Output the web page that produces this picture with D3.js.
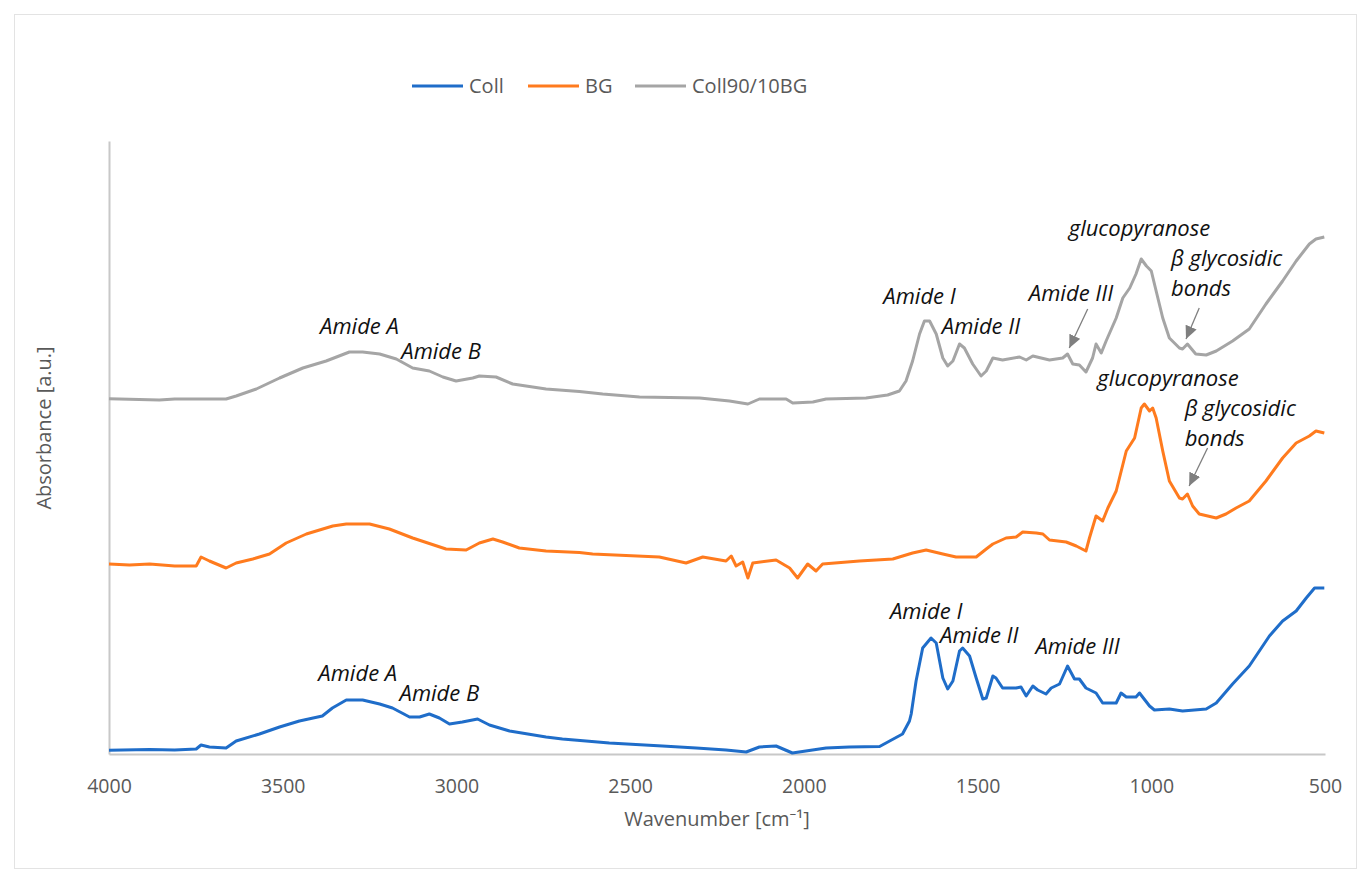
<!DOCTYPE html>
<html>
<head>
<meta charset="utf-8">
<script src="https://cdn.jsdelivr.net/npm/d3@7"></script>
<style>
  body { margin: 0; background: #fff; }
  svg text { font-family: "Open Sans", "Noto Sans", sans-serif; }
</style>
</head>
<body>
<svg id="chart" width="1367" height="882"></svg>
<script>
// FTIR spectra: collagen, bioglass and the 90/10 composite (absorbance in a.u., stacked)
const seriesNames = ["Coll", "BG", "Coll90/10BG"];
const seriesColors = ["#1f6dc9", "#ff7b1e", "#a5a5a5"];

const collWavenumber = [4000, 3883, 3811, 3749, 3735, 3711, 3663, 3634, 3567, 3509, 3452, 3386, 3357, 3317, 3270, 3221, 3184, 3135, 3106, 3078, 3049, 3020, 2983, 2939, 2905, 2847, 2742, 2695, 2627, 2560, 2407, 2310, 2224, 2166, 2128, 2080, 2033, 1975, 1936, 1869, 1782, 1753, 1716, 1696, 1691, 1677, 1658, 1634, 1619, 1600, 1586, 1571, 1552, 1543, 1523, 1504, 1485, 1475, 1456, 1447, 1428, 1389, 1375, 1360, 1341, 1327, 1303, 1288, 1264, 1241, 1221, 1207, 1188, 1159, 1140, 1101, 1087, 1072, 1044, 1034, 1005, 991, 948, 910, 842, 813, 766, 718, 660, 622, 583, 554, 530, 502];
const collAbsorbance = [0.037, 0.045, 0.04, 0.05, 0.09, 0.07, 0.06, 0.13, 0.20, 0.27, 0.33, 0.38, 0.46, 0.54, 0.54, 0.50, 0.46, 0.37, 0.37, 0.40, 0.36, 0.30, 0.32, 0.35, 0.29, 0.23, 0.17, 0.15, 0.13, 0.11, 0.08, 0.06, 0.04, 0.02, 0.07, 0.08, 0.01, 0.04, 0.06, 0.07, 0.075, 0.13, 0.20, 0.33, 0.40, 0.73, 1.06, 1.16, 1.11, 0.76, 0.65, 0.73, 1.03, 1.06, 0.98, 0.76, 0.55, 0.56, 0.78, 0.76, 0.66, 0.66, 0.67, 0.58, 0.68, 0.64, 0.60, 0.66, 0.70, 0.88, 0.75, 0.75, 0.66, 0.61, 0.51, 0.51, 0.61, 0.57, 0.57, 0.61, 0.48, 0.44, 0.45, 0.43, 0.45, 0.51, 0.70, 0.88, 1.18, 1.33, 1.43, 1.56, 1.66, 1.66];

const bgWavenumber = [4000, 3941, 3883, 3811, 3749, 3735, 3711, 3663, 3634, 3586, 3538, 3490, 3432, 3356, 3317, 3250, 3193, 3126, 3030, 2972, 2934, 2895, 2867, 2819, 2742, 2646, 2608, 2416, 2339, 2291, 2224, 2209, 2195, 2176, 2161, 2147, 2080, 2041, 2018, 1989, 1965, 1946, 1840, 1744, 1687, 1648, 1600, 1562, 1504, 1475, 1456, 1418, 1389, 1370, 1331, 1312, 1293, 1245, 1216, 1188, 1178, 1159, 1140, 1125, 1101, 1072, 1048, 1029, 1020, 1005, 996, 986, 967, 948, 919, 910, 896, 881, 862, 813, 785, 756, 718, 670, 622, 583, 545, 526, 502];
const bgAbsorbance = [1.90, 1.89, 1.90, 1.88, 1.88, 1.97, 1.93, 1.86, 1.91, 1.95, 2.00, 2.11, 2.20, 2.28, 2.30, 2.30, 2.25, 2.16, 2.05, 2.04, 2.11, 2.15, 2.12, 2.06, 2.03, 2.015, 2.00, 1.97, 1.91, 1.97, 1.93, 1.98, 1.88, 1.92, 1.76, 1.91, 1.94, 1.86, 1.76, 1.90, 1.83, 1.90, 1.93, 1.95, 2.01, 2.04, 2.00, 1.97, 1.97, 2.05, 2.10, 2.16, 2.17, 2.22, 2.21, 2.20, 2.14, 2.12, 2.08, 2.03, 2.16, 2.38, 2.33, 2.46, 2.63, 3.03, 3.16, 3.46, 3.50, 3.43, 3.46, 3.36, 3.03, 2.73, 2.56, 2.55, 2.60, 2.48, 2.40, 2.36, 2.40, 2.46, 2.53, 2.73, 2.96, 3.11, 3.18, 3.23, 3.21];

const mixWavenumber = [4000, 3855, 3811, 3663, 3634, 3576, 3509, 3442, 3375, 3308, 3270, 3221, 3173, 3126, 3078, 3039, 3001, 2953, 2934, 2886, 2838, 2742, 2646, 2579, 2473, 2300, 2214, 2161, 2128, 2051, 2032, 1974, 1936, 1821, 1759, 1725, 1706, 1687, 1667, 1653, 1638, 1619, 1600, 1586, 1571, 1552, 1538, 1514, 1490, 1475, 1456, 1428, 1379, 1360, 1341, 1293, 1255, 1241, 1226, 1207, 1188, 1169, 1159, 1144, 1130, 1101, 1082, 1062, 1044, 1029, 1014, 1000, 986, 967, 948, 919, 910, 896, 872, 842, 813, 766, 718, 670, 622, 583, 545, 526, 502];
const mixAbsorbance = [3.553, 3.54, 3.55, 3.55, 3.58, 3.65, 3.76, 3.86, 3.93, 4.02, 4.02, 4.00, 3.95, 3.86, 3.83, 3.77, 3.73, 3.76, 3.78, 3.77, 3.70, 3.65, 3.625, 3.60, 3.57, 3.56, 3.53, 3.50, 3.55, 3.55, 3.51, 3.52, 3.55, 3.56, 3.59, 3.63, 3.73, 3.93, 4.20, 4.33, 4.33, 4.20, 3.96, 3.88, 3.93, 4.10, 4.06, 3.90, 3.78, 3.83, 3.96, 3.94, 3.97, 3.94, 3.98, 3.94, 3.96, 4.00, 3.90, 3.89, 3.82, 3.96, 4.10, 4.01, 4.13, 4.36, 4.56, 4.66, 4.80, 4.95, 4.88, 4.83, 4.63, 4.36, 4.16, 4.06, 4.05, 4.10, 4.00, 3.99, 4.03, 4.13, 4.25, 4.50, 4.73, 4.93, 5.10, 5.15, 5.17];

const xTickValues = [4000, 3500, 3000, 2500, 2000, 1500, 1000, 500];

// band labels placed in data coordinates
const bandLabels = ["Amide A", "Amide B", "Amide I", "Amide II", "Amide III", "glucopyranose", "β glycosidic", "bonds",
                    "glucopyranose", "β glycosidic", "bonds",
                    "Amide A", "Amide B", "Amide I", "Amide II", "Amide III"];
const bandWavenumber = [3279, 3044, 1667, 1490, 1231, 1034, 943, 943,
                        952, 904, 904,
                        3284, 3049, 1648, 1495, 1212];
const bandAbsorbance = [4.20, 3.95, 4.50, 4.20, 4.53, 5.18, 4.88, 4.58,
                        3.68, 3.38, 3.08,
                        0.73, 0.53, 1.35, 1.11, 1.00];
const bandAnchor = ["middle", "middle", "middle", "middle", "middle", "middle", "start", "start",
                    "middle", "start", "start",
                    "middle", "middle", "middle", "middle", "middle"];

// pointer arrows: [from wavenumber, from absorbance, to wavenumber, to absorbance]
const arrowFromWn = [1183, 862, 838];
const arrowFromAbs = [4.45, 4.46, 3.06];
const arrowToWn = [1236, 900, 891];
const arrowToAbs = [4.06, 4.15, 2.68];

const svg = d3.select("#chart");

const x = d3.scaleLinear().domain([4000, 500]).range([109, 1325]);
const y = d3.scaleLinear().domain([0, 6.13]).range([754, 141]);

// chart area frame
svg.append("rect")
  .attr("x", 14.5).attr("y", 14.5)
  .attr("width", 1342).attr("height", 854)
  .attr("fill", "none").attr("stroke", "#e3e3e3").attr("stroke-width", 1);

// axes
const xAxis = d3.axisBottom(x).tickValues(xTickValues).tickSize(0).tickPadding(25)
  .tickFormat(d3.format("d"));
const gx = svg.append("g").attr("transform", `translate(0,${y(0)})`).call(xAxis);
gx.select(".domain").attr("stroke", "#c8c8c8").attr("stroke-width", 2);
gx.selectAll(".tick text").attr("fill", "#595959").style("font-size", "19.5px");

const gy = svg.append("g").attr("transform", `translate(${x(4000)},0)`)
  .call(d3.axisLeft(y).tickValues([]).tickSize(0));
gy.select(".domain").attr("stroke", "#c8c8c8").attr("stroke-width", 2);

// axis titles
svg.append("text")
  .attr("x", 717).attr("y", 826)
  .attr("text-anchor", "middle")
  .attr("fill", "#595959").style("font-size", "20px")
  .text("Wavenumber [cm\u207B\u00B9]");

svg.append("text")
  .attr("transform", `translate(51,${428}) rotate(-90)`)
  .attr("text-anchor", "middle")
  .attr("fill", "#595959").style("font-size", "20px")
  .text("Absorbance [a.u.]");

// spectra
const spectra = [
  { wn: collWavenumber, ab: collAbsorbance },
  { wn: bgWavenumber, ab: bgAbsorbance },
  { wn: mixWavenumber, ab: mixAbsorbance }
];
const line = d3.line().x(d => x(d[0])).y(d => y(d[1]));

spectra.forEach((s, i) => {
  const pts = s.wn.map((w, k) => [w, s.ab[k]]);
  svg.append("path")
    .datum(pts)
    .attr("d", line)
    .attr("fill", "none")
    .attr("stroke", seriesColors[i])
    .attr("stroke-width", 3)
    .attr("stroke-linejoin", "round");
});

// arrows
svg.append("defs").append("marker")
  .attr("id", "head")
  .attr("viewBox", "0 0 10 10")
  .attr("refX", 10).attr("refY", 5)
  .attr("markerWidth", 13).attr("markerHeight", 12)
  .attr("markerUnits", "userSpaceOnUse")
  .attr("orient", "auto")
  .attr("preserveAspectRatio", "none")
  .append("path").attr("d", "M0,0 L10,5 L0,10 Z").attr("fill", "#7f7f7f");

arrowFromWn.forEach((w, i) => {
  svg.append("line")
    .attr("x1", x(w)).attr("y1", y(arrowFromAbs[i]))
    .attr("x2", x(arrowToWn[i])).attr("y2", y(arrowToAbs[i]))
    .attr("stroke", "#7f7f7f").attr("stroke-width", 1.3)
    .attr("marker-end", "url(#head)");
});

// band labels
bandLabels.forEach((t, i) => {
  svg.append("text")
    .attr("x", x(bandWavenumber[i]))
    .attr("y", y(bandAbsorbance[i]))
    .attr("text-anchor", bandAnchor[i])
    .attr("fill", "#111")
    .style("font-size", "22px")
    .style("font-style", "italic")
    .text(t);
});

// legend
const legendX = [412, 528, 635];
seriesNames.forEach((n, i) => {
  const g = svg.append("g").attr("transform", `translate(${legendX[i]},86)`);
  g.append("line").attr("x1", 0).attr("x2", 51).attr("y1", 0).attr("y2", 0)
    .attr("stroke", seriesColors[i]).attr("stroke-width", 3);
  g.append("text").attr("x", 57).attr("y", 7)
    .attr("fill", "#595959").style("font-size", "20px")
    .text(n);
});
</script>
</body>
</html>
